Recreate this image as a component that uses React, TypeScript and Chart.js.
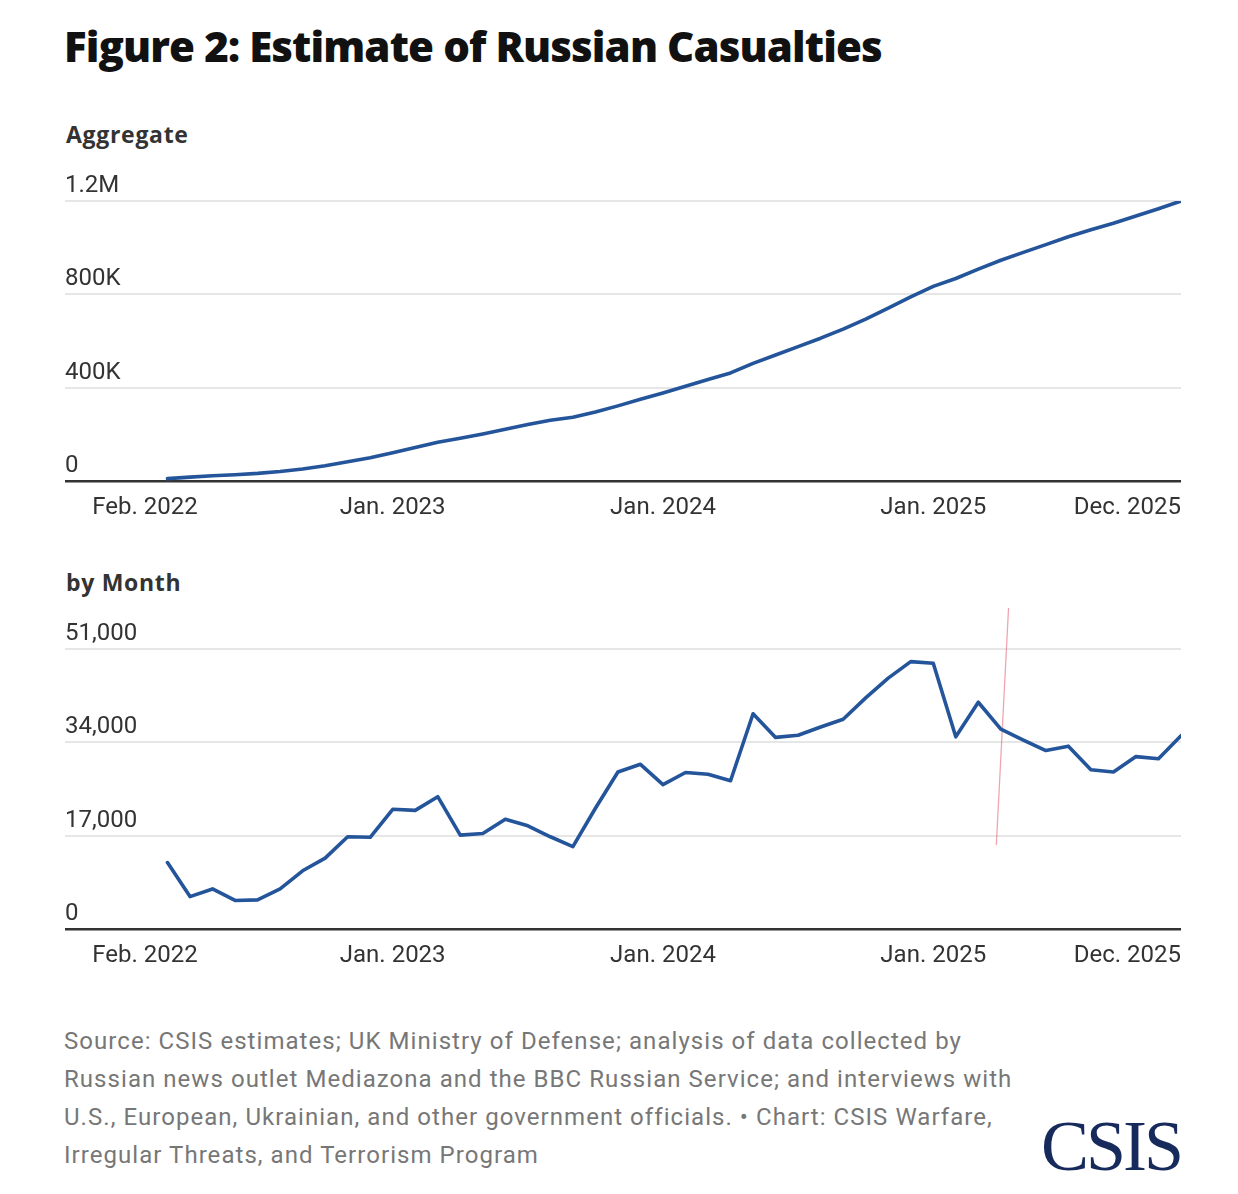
import React, { useEffect, useRef } from 'react';
import { Chart, ChartConfiguration, registerables } from 'chart.js';

Chart.register(...registerables);

// months counted from Feb. 2022 (= 0); the series start in Mar. 2022
const firstMonth = 1;
const xMin = -3.55;
const xMax = 46;
const xTickValues = [0, 11, 23, 35, 46];
const xTickLabels = ['Feb. 2022', 'Jan. 2023', 'Jan. 2024', 'Jan. 2025', 'Dec. 2025'];

// cumulative casualties, Mar. 2022 - Dec. 2025
const aggregate = [
    10000, 16500, 22500, 27000, 32500, 40500, 51500, 65500, 82500, 99500,
    121500, 143500, 166500, 183000, 201500, 222000, 242000, 260000, 273000, 296000,
    322000, 350000, 377000, 406000, 435000, 463000, 504000, 540000, 576000, 612000,
    651000, 694000, 741000, 789000, 834000, 868000, 908000, 946000, 980000, 1013000,
    1047000, 1077000, 1105000, 1136000, 1167000, 1200000,
];

// casualties per month, Mar. 2022 - Dec. 2025
const monthly = [
    12100, 5900, 7300, 5200, 5300, 7300, 10600, 12900, 16800, 16700,
    21800, 21600, 24100, 17100, 17400, 20000, 18800, 16800, 15000, 22000,
    28600, 30000, 26300, 28500, 28200, 27000, 39200, 34900, 35300, 36800,
    38200, 42100, 45700, 48700, 48400, 35000, 41300, 36400, 34400, 32500,
    33300, 29000, 28600, 31400, 31000, 35200,
];

const aggTicks = [0, 400000, 800000, 1200000];
const aggTickLabels = ['0', '400K', '800K', '1.2M'];
const monthTicks = [0, 17000, 34000, 51000];
const monthTickLabels = ['0', '17,000', '34,000', '51,000'];

// thin red pen stroke on the monthly panel
const penMark = [
    { x: 38.35, y: 59000 },
    { x: 37.8, y: 15300 },
];

const LINE = '#24559b';
const TICK_FONT = { family: 'Roboto', size: 24 };

function makeConfig(values: number[], yTicks: number[], yLabels: string[], extra: any[]): ChartConfiguration {
    return {
        type: 'line',
        data: {
            datasets: [
                {
                    data: values.map((v, i) => ({ x: firstMonth + i, y: v })),
                    borderColor: LINE,
                    borderWidth: 3.6,
                    pointRadius: 0,
                    tension: 0,
                    borderJoinStyle: 'round',
                    borderCapStyle: 'round',
                },
                ...extra,
            ],
        },
        options: {
            responsive: true,
            maintainAspectRatio: false,
            animation: false,
            layout: { padding: { left: 65, right: 57, top: 41, bottom: 0 } },
            plugins: { legend: { display: false }, tooltip: { enabled: false } },
            scales: {
                x: {
                    type: 'linear',
                    min: xMin,
                    max: xMax,
                    afterBuildTicks: (s: any) => {
                        s.ticks = [{ value: xMin }, ...xTickValues.map((v) => ({ value: v }))];
                    },
                    afterFit: (s: any) => {
                        s.height = 49;
                    },
                    grid: { display: false },
                    border: { display: false },
                    ticks: {
                        align: 'inner',
                        padding: 5,
                        autoSkip: false,
                        maxRotation: 0,
                        color: '#333',
                        font: TICK_FONT,
                        callback: (v: any) => {
                            const i = xTickValues.indexOf(v);
                            return i >= 0 ? xTickLabels[i] : '';
                        },
                    },
                },
                y: {
                    min: 0,
                    max: yTicks[yTicks.length - 1],
                    afterBuildTicks: (s: any) => {
                        s.ticks = yTicks.map((v) => ({ value: v }));
                    },
                    afterFit: (s: any) => {
                        s.width = 0;
                    },
                    border: { display: false },
                    grid: {
                        drawTicks: false,
                        color: (c: any) => (c.tick && c.tick.value === 0 ? '#333' : '#e6e6e6'),
                        lineWidth: (c: any) => (c.tick && c.tick.value === 0 ? 2.6 : 2),
                    },
                    ticks: {
                        mirror: true,
                        padding: 0,
                        labelOffset: -15,
                        color: '#333',
                        font: TICK_FONT,
                        callback: (v: any) => {
                            const i = yTicks.indexOf(v);
                            return i >= 0 ? yLabels[i] : '';
                        },
                    },
                },
            },
        },
    } as ChartConfiguration;
}

const LineChart: React.FC<{ config: () => ChartConfiguration; top: number }> = ({ config, top }) => {
    const canvasRef = useRef<HTMLCanvasElement>(null);

    useEffect(() => {
        const ctx = canvasRef.current?.getContext('2d');
        if (!ctx) return;
        const chart = new Chart(ctx, config());
        return () => chart.destroy();
    }, []);

    return (
        <div style={{ position: 'absolute', left: 0, top, width: 1238, height: 370 }}>
            <canvas ref={canvasRef} />
        </div>
    );
};

const App: React.FC = () => {
    const sub: React.CSSProperties = {
        position: 'absolute',
        left: 66,
        fontFamily: 'Open Sans',
        fontWeight: 700,
        fontSize: 23,
        lineHeight: 1,
        letterSpacing: 0.7,
        color: '#333',
        whiteSpace: 'nowrap',
    };

    return (
        <div style={{ position: 'absolute', left: 0, top: 0, width: 1238, height: 1194, background: '#fff' }}>
            <div
                style={{
                    position: 'absolute',
                    left: 64,
                    top: 25,
                    fontFamily: 'Open Sans',
                    fontWeight: 800,
                    fontSize: 42,
                    lineHeight: 1,
                    letterSpacing: -0.9,
                    color: '#111',
                    whiteSpace: 'nowrap',
                }}
            >
                Figure 2: Estimate of Russian Casualties
            </div>

            <div style={{ ...sub, top: 123 }}>Aggregate</div>
            <LineChart top={160} config={() => makeConfig(aggregate, aggTicks, aggTickLabels, [])} />

            <div style={{ ...sub, top: 571 }}>by Month</div>
            <LineChart
                top={608}
                config={() =>
                    makeConfig(monthly, monthTicks, monthTickLabels, [
                        {
                            data: penMark,
                            borderColor: 'rgba(226, 92, 110, 0.55)',
                            borderWidth: 1.3,
                            pointRadius: 0,
                            clip: false,
                        },
                    ])
                }
            />

            <div
                style={{
                    position: 'absolute',
                    left: 64,
                    top: 1022,
                    width: 1000,
                    fontFamily: 'Roboto',
                    fontSize: 24,
                    lineHeight: '38px',
                    letterSpacing: 1.05,
                    color: '#777',
                    whiteSpace: 'nowrap',
                }}
            >
                Source: CSIS estimates; UK Ministry of Defense; analysis of data collected by
                <br />
                Russian news outlet Mediazona and the BBC Russian Service; and interviews with
                <br />
                U.S., European, Ukrainian, and other government officials. • Chart: CSIS Warfare,
                <br />
                Irregular Threats, and Terrorism Program
            </div>

            <div
                style={{
                    position: 'absolute',
                    left: 1041,
                    top: 1110,
                    fontFamily: 'Liberation Serif',
                    fontSize: 72,
                    lineHeight: 1,
                    letterSpacing: -3,
                    color: '#172a5c',
                    whiteSpace: 'nowrap',
                }}
            >
                CSIS
            </div>
        </div>
    );
};

export default App;
